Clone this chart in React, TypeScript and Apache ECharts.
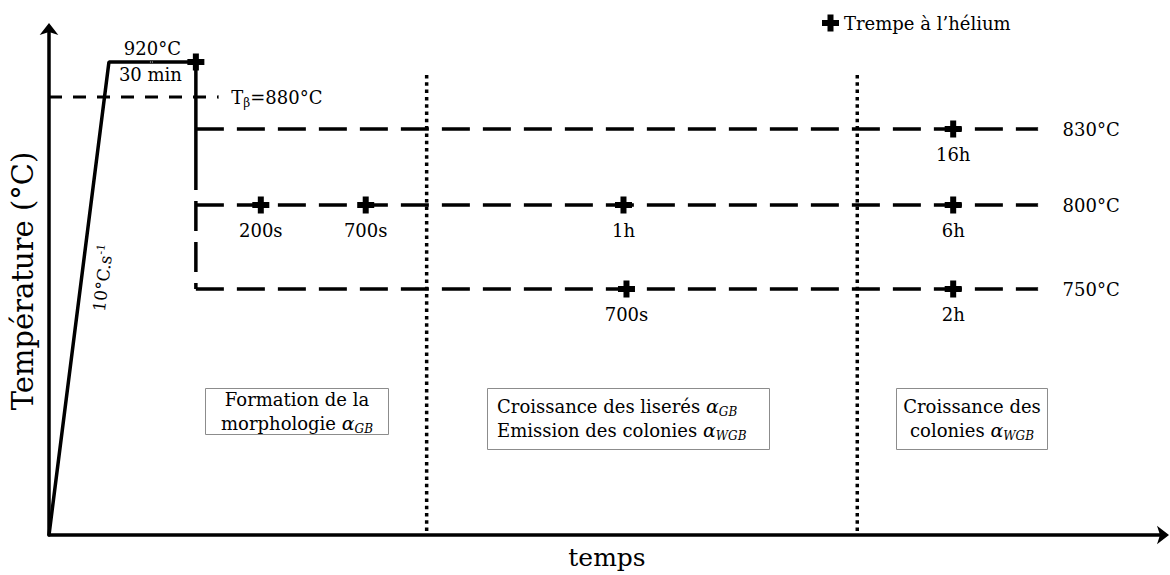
import React, { useEffect, useRef } from "react";
import * as echarts from "echarts";

// ---- schematic data (time units along x, schematic temperature levels along y) ----
const FONT = "DejaVu Serif";
const INK = "#000";

const rampTime = [0, 60];            // heating ramp start / end
const holdLevel = 473;               // 920°C plateau
const holdEnd = 147;                 // end of 30 min hold (quench point)
const betaLevel = 438;               // Tβ = 880°C
const betaEnd = 170;
const isoTemps = ["830°C", "800°C", "750°C"];
const isoLevels = [406, 330, 246];
const isoEnd = 990;
const splitTimes = [378, 809];       // dotted separators
const splitTop = 460;

const quenchLabels = ["16h", "200s", "700s", "1h", "6h", "700s", "2h"];
const quenchTimes = [905, 212, 317, 575, 905, 578, 905];
const quenchLevels = [406, 330, 330, 330, 330, 246, 246];

const legendName = "Trempe à l’hélium";
const plusPath =
  "path://M5.5,0H11.5V5.5H17V11.5H11.5V17H5.5V11.5H0V5.5H5.5Z";

export default function App() {
  const ref = useRef<HTMLDivElement>(null);
  useEffect(() => {
    if (!ref.current) return;
    const chart = echarts.init(ref.current, null, { renderer: "svg" });

    const solid = { color: "#000", width: 3.5, type: "solid" as const };
    const lineSeries = (data: number[][], lineStyle: any) => ({
      type: "line",
      data,
      symbol: "none",
      silent: true,
      lineStyle,
      z: 2,
    });

    const sub = (size: number, italic = true) => ({
      fontSize: size,
      fontFamily: FONT,
      fontStyle: italic ? "italic" : "normal",
      color: INK,
      verticalAlign: "bottom",
      lineHeight: 14,
    });
    const baseRich = {
      n: { fontSize: 18, fontFamily: FONT, color: INK, lineHeight: 24 },
      a: { fontSize: 19, fontFamily: FONT, fontStyle: "italic", color: INK, lineHeight: 24 },
      s: sub(12),
    };
    const lbl = { fontSize: 18, fontFamily: FONT, color: INK };

    const series: any[] = [
      // heating ramp + hold + drop to first isotherm (solid)
      lineSeries(
        [
          [rampTime[0], 0],
          [rampTime[1], holdLevel],
          [holdEnd, holdLevel],
          [holdEnd, 375],
        ],
        solid
      ),
      // dashed vertical down to 750°C
      lineSeries(
        [
          [holdEnd, 375],
          [holdEnd, isoLevels[2]],
        ],
        { color: "#000", width: 3.5, type: [30, 11] }
      ),
      // Tβ line
      lineSeries(
        [
          [0, betaLevel],
          [betaEnd, betaLevel],
        ],
        { color: "#000", width: 3, type: [13, 11] }
      ),
      // isothermal holds
      ...isoLevels.map((lv) =>
        lineSeries(
          [
            [holdEnd, lv],
            [isoEnd, lv],
          ],
          { color: "#000", width: 3.5, type: [28, 13] }
        )
      ),
      // dotted separators
      ...splitTimes.map((t) =>
        lineSeries(
          [
            [t, splitTop],
            [t, 0],
          ],
          { color: "#000", width: 3.5, type: [3.5, 3.8] }
        )
      ),
      // quench crosses
      {
        name: legendName,
        type: "scatter",
        silent: true,
        symbol: plusPath,
        symbolSize: 17,
        itemStyle: { color: "#000", opacity: 1 },
        z: 5,
        data: [
          { value: [holdEnd, holdLevel] },
          ...quenchTimes.map((t, i) => ({
            value: [t, quenchLevels[i]],
            label: {
              show: true,
              position: "bottom",
              distance: 8,
              formatter: quenchLabels[i],
              ...lbl,
            },
          })),
        ],
      },
      // text annotations anchored on the lines
      {
        type: "scatter",
        silent: true,
        symbolSize: 1,
        itemStyle: { color: "#fff", opacity: 1 },
        z: 6,
        data: [
          ...isoLevels.map((lv, i) => ({
            value: [isoEnd, lv],
            label: {
              show: true,
              position: "right",
              distance: 24,
              formatter: isoTemps[i],
              ...lbl,
            },
          })),
          {
            value: [betaEnd, betaLevel],
            label: {
              show: true,
              position: "right",
              distance: 12,
              formatter: "{n|T}{s|β}{n|=880°C}",
              rich: {
                n: { fontSize: 18, fontFamily: FONT, color: INK, lineHeight: 24 },
                s: sub(12, false),
              },
            },
          },
          {
            value: [(rampTime[1] + holdEnd) / 2, holdLevel],
            label: {
              show: true,
              position: "top",
              distance: 4,
              formatter: "920°C",
              ...lbl,
            },
          },
          {
            value: [(rampTime[1] + holdEnd) / 2 - 2, holdLevel],
            label: {
              show: true,
              position: "bottom",
              distance: 3,
              formatter: "30 min",
              ...lbl,
            },
          },
        ],
      },
    ];

    const boxStroke = { fill: "none", stroke: "#8c8c8c", lineWidth: 1 };

    chart.setOption({
      animation: false,
      backgroundColor: "#fff",
      grid: { left: 48, right: 5, top: 27, bottom: 40 },
      legend: {
        left: 817,
        top: 9,
        itemWidth: 17,
        itemHeight: 17,
        itemGap: 10,
        selectedMode: false,
        data: [{ name: legendName, icon: plusPath }],
        textStyle: { fontSize: 18, fontFamily: FONT, color: INK },
      },
      xAxis: {
        type: "value",
        min: 0,
        max: 1117,
        splitLine: { show: false },
        axisTick: { show: false },
        axisLabel: { show: false },
        axisLine: {
          show: true,
          symbol: ["none", "arrow"],
          symbolSize: [14, 12],
          symbolOffset: [0, 4],
          lineStyle: { color: "#000", width: 3.5 },
        },
        name: "temps",
        nameLocation: "middle",
        nameGap: 10,
        nameTextStyle: { fontSize: 25, fontFamily: FONT, color: INK, verticalAlign: "top" },
      },
      yAxis: {
        type: "value",
        min: 0,
        max: 508,
        splitLine: { show: false },
        axisTick: { show: false },
        axisLabel: { show: false },
        axisLine: {
          show: true,
          symbol: ["none", "arrow"],
          symbolSize: [14, 12],
          symbolOffset: [0, 4],
          lineStyle: { color: "#000", width: 3.5 },
        },
        name: "Température (°C)",
        nameLocation: "middle",
        nameGap: 12,
        nameTextStyle: { fontSize: 29, fontFamily: FONT, color: INK },
      },
      series,
      graphic: [
        {
          type: "text",
          x: 103,
          y: 278,
          rotation: (82.8 * Math.PI) / 180,
          silent: true,
          style: {
            text: "{n|10°C.s}{p|-1}",
            align: "center",
            verticalAlign: "middle",
            rich: {
              n: { fontSize: 17, fontFamily: FONT, color: INK, lineHeight: 22 },
              p: { fontSize: 11, fontFamily: FONT, color: INK, verticalAlign: "top", lineHeight: 12 },
            },
          },
        },
        // box 1
        { type: "rect", silent: true, shape: { x: 205.5, y: 388.5, width: 183, height: 46 }, style: boxStroke },
        {
          type: "text",
          silent: true,
          x: 297,
          y: 411,
          style: {
            text: "{n|Formation de la}\n{n|morphologie }{a|α}{s|GB}",
            align: "center",
            verticalAlign: "middle",
            rich: baseRich,
          },
        },
        // box 2
        { type: "rect", silent: true, shape: { x: 487.5, y: 388.5, width: 282, height: 61 }, style: boxStroke },
        {
          type: "text",
          silent: true,
          x: 497,
          y: 418,
          style: {
            text: "{n|Croissance des liserés }{a|α}{s|GB}\n{n|Emission des colonies }{a|α}{s|WGB}",
            align: "left",
            verticalAlign: "middle",
            rich: baseRich,
          },
        },
        // box 3
        { type: "rect", silent: true, shape: { x: 896.5, y: 388.5, width: 151, height: 61 }, style: boxStroke },
        {
          type: "text",
          silent: true,
          x: 972,
          y: 418,
          style: {
            text: "{n|Croissance des}\n{n|colonies }{a|α}{s|WGB}",
            align: "center",
            verticalAlign: "middle",
            rich: baseRich,
          },
        },
      ],
    });
    return () => chart.dispose();
  }, []);

  return (
    <div
      ref={ref}
      style={{ position: "fixed", left: 0, top: 0, width: 1170, height: 575, background: "#fff" }}
    />
  );
}
